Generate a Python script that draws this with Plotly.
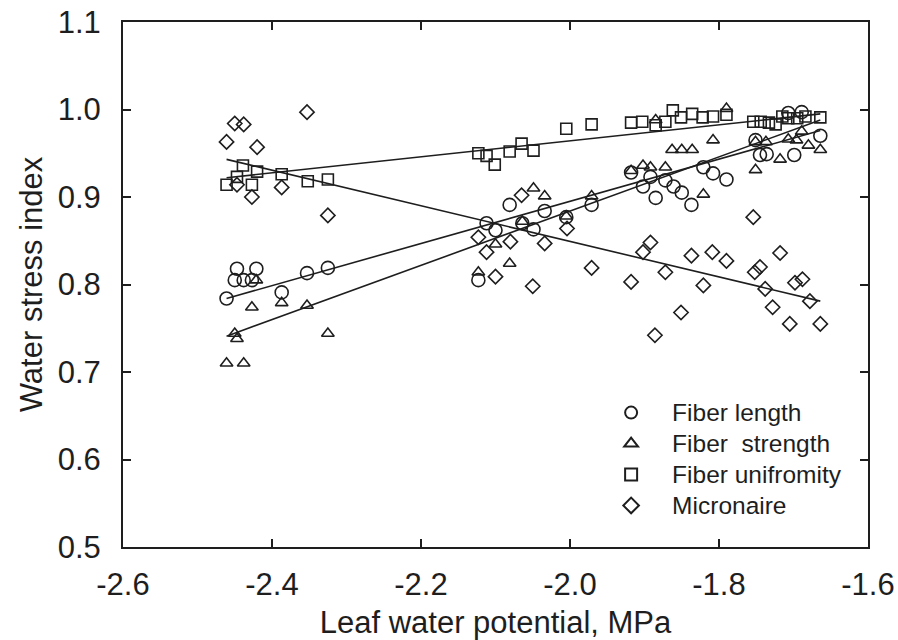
import plotly.graph_objects as go

# ---- data ----
len_x = [-2.461, -2.450, -2.447, -2.438, -2.427, -2.421, -2.387, -2.353, -2.325,
         -2.123, -2.112, -2.100, -2.081, -2.064, -2.049, -2.034, -2.005, -1.971,
         -1.918, -1.902, -1.892, -1.885, -1.872, -1.861, -1.850, -1.837, -1.821,
         -1.808, -1.790, -1.751, -1.745, -1.736, -1.707, -1.699, -1.689, -1.664]
len_y = [0.784, 0.805, 0.818, 0.805, 0.805, 0.818, 0.791, 0.813, 0.819,
         0.805, 0.870, 0.862, 0.891, 0.870, 0.863, 0.884, 0.877, 0.891,
         0.928, 0.912, 0.923, 0.899, 0.919, 0.912, 0.905, 0.891, 0.934,
         0.927, 0.920, 0.965, 0.948, 0.949, 0.996, 0.948, 0.997, 0.970]

str_x = [-2.461, -2.450, -2.447, -2.438, -2.427, -2.421, -2.387, -2.353, -2.325,
         -2.123, -2.100, -2.081, -2.064, -2.049, -2.034, -2.005, -1.971,
         -1.918, -1.902, -1.892, -1.885, -1.872, -1.863, -1.850, -1.836, -1.821,
         -1.808, -1.790, -1.751, -1.751, -1.737, -1.718, -1.707, -1.696, -1.689,
         -1.680, -1.664]
str_y = [0.710, 0.744, 0.738, 0.710, 0.774, 0.805, 0.779, 0.776, 0.744,
         0.814, 0.846, 0.824, 0.872, 0.910, 0.901, 0.878, 0.901,
         0.930, 0.936, 0.934, 0.988, 0.934, 0.954, 0.954, 0.954, 0.903,
         0.965, 1.001, 0.931, 0.963, 0.963, 0.943, 0.966, 0.965, 0.975,
         0.959, 0.954]

uni_x = [-2.461, -2.447, -2.439, -2.427, -2.420, -2.387, -2.352, -2.325,
         -2.123, -2.112, -2.101, -2.081, -2.065, -2.049, -2.005, -1.971,
         -1.918, -1.903, -1.885, -1.872, -1.862, -1.851, -1.836, -1.822,
         -1.808, -1.790, -1.754, -1.744, -1.733, -1.724, -1.715, -1.707,
         -1.695, -1.684, -1.664]
uni_y = [0.914, 0.923, 0.936, 0.914, 0.929, 0.926, 0.918, 0.920,
         0.950, 0.947, 0.937, 0.952, 0.961, 0.953, 0.978, 0.983,
         0.985, 0.986, 0.982, 0.986, 0.999, 0.991, 0.995, 0.991,
         0.992, 0.994, 0.986, 0.986, 0.985, 0.983, 0.992, 0.990,
         0.990, 0.992, 0.991]

mic_x = [-2.461, -2.450, -2.438, -2.447, -2.420, -2.427, -2.387, -2.353, -2.325,
         -2.123, -2.112, -2.100, -2.080, -2.065, -2.050, -2.034, -2.004, -1.971,
         -1.918, -1.902, -1.892, -1.886, -1.872, -1.851, -1.837, -1.821,
         -1.809, -1.790, -1.754, -1.752, -1.745, -1.738, -1.728, -1.718,
         -1.705, -1.698, -1.688, -1.678, -1.664]
mic_y = [0.963, 0.984, 0.983, 0.914, 0.957, 0.900, 0.911, 0.997, 0.879,
         0.854, 0.837, 0.809, 0.849, 0.902, 0.798, 0.847, 0.864, 0.819,
         0.803, 0.837, 0.848, 0.742, 0.814, 0.768, 0.833, 0.799,
         0.837, 0.827, 0.877, 0.814, 0.820, 0.795, 0.774, 0.836,
         0.755, 0.802, 0.806, 0.781, 0.755]

# regression line end points
fit_x = [-2.461, -1.664]
len_fit = [0.784, 0.976]
str_fit = [0.741, 0.988]
uni_fit = [0.922, 0.995]
mic_fit = [0.943, 0.781]

names = ["Fiber length", "Fiber  strength", "Fiber unifromity", "Micronaire"]
INK = "#1e1e1e"
FONT = "Liberation Sans, Arial, sans-serif"

fig = go.Figure()

for fy in [len_fit, str_fit, uni_fit, mic_fit]:
    fig.add_trace(go.Scatter(x=fit_x, y=fy, mode="lines", showlegend=False,
                             line=dict(color=INK, width=1.6), hoverinfo="skip"))

series = [(len_x, len_y, "circle-open", 13),
          (str_x, str_y, "triangle-up-open", 11),
          (uni_x, uni_y, "square-open", 11),
          (mic_x, mic_y, "diamond-open", 11)]
for (xs, ys, sym, sz), nm in zip(series, names):
    fig.add_trace(go.Scatter(x=xs, y=ys, mode="markers",
                             name='<span style="font-size:24.5px">' + nm.replace("  ", "&nbsp; ") + "</span>",
                             marker=dict(symbol=sym, size=sz, color=INK,
                                         line=dict(width=1.6, color=INK))))

axis_common = dict(showline=True, linecolor=INK, linewidth=2, mirror="ticks",
                   ticks="inside", ticklen=8, tickwidth=1.5, tickcolor=INK,
                   showgrid=False, zeroline=False, automargin=False,
                   tickfont=dict(family=FONT, size=31, color=INK),
                   title_font=dict(family=FONT, size=31, color=INK))

fig.update_layout(
    width=898, height=640,
    margin=dict(l=123, r=30, t=22, b=93),
    paper_bgcolor="white", plot_bgcolor="white",
    xaxis=dict(range=[-2.6, -1.6], tickvals=[-2.6, -2.4, -2.2, -2.0, -1.8, -1.6],
               ticktext=["-2.6", "-2.4", "-2.2", "-2.0", "-1.8", "-1.6"],
               title_text="Leaf water potential, MPa", title_standoff=14,
               ticklabelstandoff=9, **axis_common),
    yaxis=dict(range=[0.5, 1.1], tickvals=[0.5, 0.6, 0.7, 0.8, 0.9, 1.0, 1.1],
               ticktext=["0.5", "0.6", "0.7", "0.8", "0.9", "1.0", "1.1"],
               title_text="Water stress index", title_standoff=6,
               ticklabelstandoff=14, **axis_common),
    legend=dict(x=0.627, y=0.295, xanchor="left", yanchor="top",
                bgcolor="rgba(0,0,0,0)", borderwidth=0, itemwidth=72,
                font=dict(family=FONT, size=21.5, color=INK),
                itemsizing="constant", tracegroupgap=0),
)

fig.write_html("out.html")
